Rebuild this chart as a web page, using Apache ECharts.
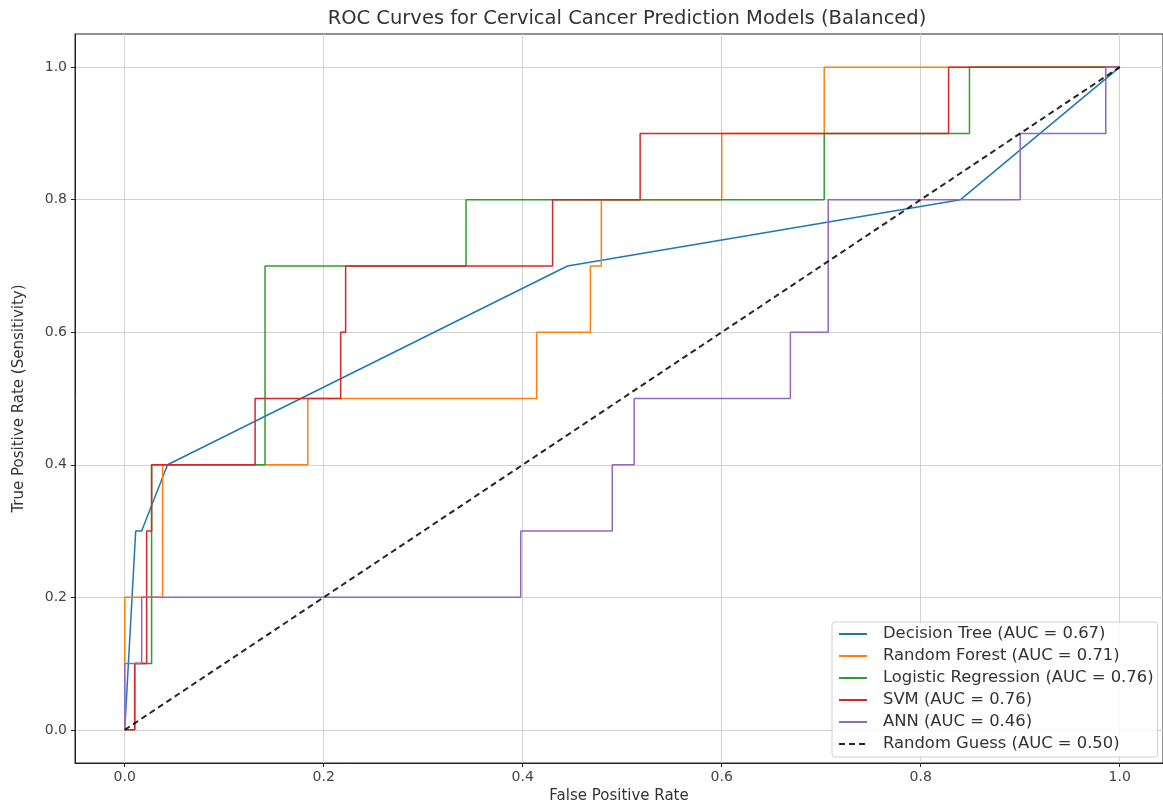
<!DOCTYPE html>
<html>
<head>
<meta charset="utf-8">
<script src="https://cdn.jsdelivr.net/npm/echarts@6/dist/echarts.min.js"></script>
<style>
html,body{margin:0;padding:0;background:#fff;}
#chart{width:1163px;height:805px;}
</style>
</head>
<body>
<div id="chart"></div>
<script>
// ---- data (FPR, TPR) ----
const tickValues = [0, 0.2, 0.4, 0.6, 0.8, 1.0];
const seriesNames = [
  'Decision Tree (AUC = 0.67)',
  'Random Forest (AUC = 0.71)',
  'Logistic Regression (AUC = 0.76)',
  'SVM (AUC = 0.76)',
  'ANN (AUC = 0.46)',
  'Random Guess (AUC = 0.50)'
];
const decisionTree = [[0,0],[0.011,0.3],[0.017,0.3],[0.043,0.4],[0.445,0.7],[0.84,0.8],[1,1]];
const randomForest = [[0,0],[0,0.2],[0.038,0.2],[0.038,0.4],[0.184,0.4],[0.184,0.5],[0.414,0.5],[0.414,0.6],[0.468,0.6],[0.468,0.7],[0.479,0.7],[0.479,0.8],[0.6,0.8],[0.6,0.9],[0.703,0.9],[0.703,1.0],[1,1]];
const logisticRegression = [[0,0],[0.01,0],[0.01,0.1],[0.027,0.1],[0.027,0.4],[0.141,0.4],[0.141,0.7],[0.343,0.7],[0.343,0.8],[0.703,0.8],[0.703,0.9],[0.849,0.9],[0.849,1.0],[1,1]];
const svm = [[0,0],[0.01,0],[0.01,0.1],[0.022,0.1],[0.022,0.3],[0.027,0.3],[0.027,0.4],[0.131,0.4],[0.131,0.5],[0.217,0.5],[0.217,0.6],[0.222,0.6],[0.222,0.7],[0.43,0.7],[0.43,0.8],[0.518,0.8],[0.518,0.9],[0.828,0.9],[0.828,1.0],[1,1]];
const ann = [[0,0],[0,0.1],[0.017,0.1],[0.017,0.2],[0.398,0.2],[0.398,0.3],[0.49,0.3],[0.49,0.4],[0.512,0.4],[0.512,0.5],[0.669,0.5],[0.669,0.6],[0.707,0.6],[0.707,0.8],[0.9,0.8],[0.9,0.9],[0.986,0.9],[0.986,1.0],[1,1]];
const randomGuess = [[0,0],[1,1]];

const colors = ['#1f77b4','#ff7f0e','#2ca02c','#d62728','#9467bd','#000000'];
const curves = [decisionTree, randomForest, logisticRegression, svm, ann, randomGuess];

const FONT = 'DejaVu Sans';
const chart = echarts.init(document.getElementById('chart'), null, {renderer:'canvas'});

const series = curves.map((d, i) => ({
  name: seriesNames[i],
  type: 'line',
  data: d,
  symbol: 'none',
  showSymbol: false,
  animation: false,
  z: 2 + i,
  lineStyle: i === 5
    ? {color: colors[i], width: 2, type: [6, 4], opacity: 0.85}
    : {color: colors[i], width: 1.5},
  itemStyle: {color: colors[i]}
}));

function axisCommon(name, maxV) {
  return {
    type: 'value',
    min: -0.05,
    max: maxV,
    name: name,
    nameLocation: 'middle',
    nameTextStyle: {fontFamily: FONT, fontSize: 15, color: '#333'},
    axisLine: {show: true, onZero: false, lineStyle: {color: '#222', width: 1}},
    axisTick: {show: true, length: 4, inside: false, customValues: tickValues, lineStyle: {color: '#222'}},
    axisLabel: {show: true, customValues: tickValues, fontFamily: FONT, fontSize: 14, color: '#444',
                formatter: v => v.toFixed(1)},
    splitLine: {show: true, lineStyle: {color: '#d2d2d2', width: 1}}
  };
}

const xAxis = axisCommon('False Positive Rate', 1.0435);
xAxis.nameGap = 26;
xAxis.axisLabel.margin = 7;
const yAxis = axisCommon('True Positive Rate (Sensitivity)', 1.05);
yAxis.nameGap = 48;
yAxis.axisLabel.margin = 8;

chart.setOption({
  backgroundColor: '#fff',
  animation: false,
  color: colors,
  title: {
    text: 'ROC Curves for Cervical Cancer Prediction Models (Balanced)',
    left: 622, top: 4, textAlign: 'center',
    textStyle: {fontFamily: FONT, fontSize: 19.5, fontWeight: 'normal', color: '#333'}
  },
  grid: {left: 75, right: 0, top: 34, bottom: 42, show: true, borderColor: '#222', borderWidth: 1,
         containLabel: false, outerBoundsMode: 'none'},
  xAxis: xAxis,
  yAxis: yAxis,
  legend: {
    orient: 'vertical',
    left: 832, top: 622,
    padding: [4, 4, 5, 6],
    itemWidth: 28, itemHeight: 14, itemGap: 6,
    itemStyle: {opacity: 0},
    backgroundColor: 'rgba(255,255,255,0.85)',
    borderColor: '#d0d0d0', borderWidth: 1, borderRadius: 3,
    textStyle: {fontFamily: FONT, fontSize: 16.4, lineHeight: 16, color: '#333', padding: [0,0,0,11]},
    data: seriesNames.map((n, i) => ({name: n}))
  },
  series: series
});
</script>
</body>
</html>
